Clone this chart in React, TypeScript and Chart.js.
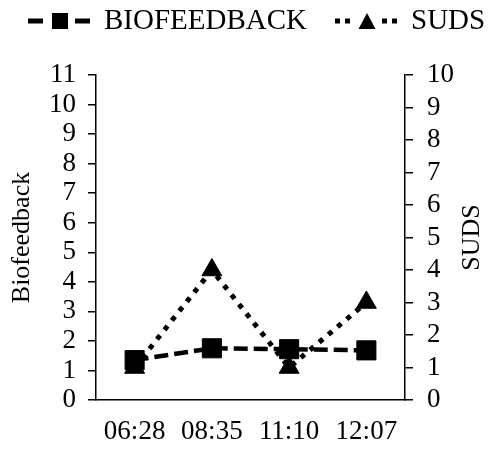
import React, { useEffect, useRef } from 'react';
import { Chart, registerables } from 'chart.js';

Chart.register(...registerables);

// ---- data ----
const categories = ['06:28', '08:35', '11:10', '12:07'];
const biofeedbackValues = [1.35, 1.75, 1.72, 1.68];
const sudsValues = [1, 4, 1, 3];
const seriesLabels = ['BIOFEEDBACK', 'SUDS'];
const leftAxisTitle = 'Biofeedback';
const rightAxisTitle = 'SUDS';
const leftAxisRange = [0, 11];
const rightAxisRange = [0, 10];

const FONT = "'Liberation Serif', 'Times New Roman', serif";

const legendDashes = [[15, 6], [5, 5]];

const drawTriangle = (ctx: CanvasRenderingContext2D, cx: number, cy: number, w: number, h: number) => {
  ctx.beginPath();
  ctx.moveTo(cx, cy - h / 2);
  ctx.lineTo(cx + w / 2, cy + h / 2);
  ctx.lineTo(cx - w / 2, cy + h / 2);
  ctx.closePath();
  ctx.fill();
};

const customPlugin = {
  id: 'customDecor',
  afterDraw(chart: any) {
    const ctx: CanvasRenderingContext2D = chart.ctx;
    ctx.save();
    // legend
    const ly = 21;
    let x = 28;
    ctx.font = `29px ${FONT}`;
    chart.data.datasets.forEach((ds: any, i: number) => {
      const sampleW = 63;
      ctx.strokeStyle = '#000';
      ctx.lineWidth = 5;
      ctx.lineCap = 'butt';
      ctx.setLineDash(legendDashes[i]);
      ctx.beginPath();
      ctx.moveTo(x, ly);
      ctx.lineTo(x + 16, ly);
      ctx.stroke();
      ctx.beginPath();
      ctx.moveTo(x + 47, ly);
      ctx.lineTo(x + 63, ly);
      ctx.stroke();
      ctx.setLineDash([]);
      ctx.fillStyle = '#000';
      const cx = x + 32;
      if (ds.pointStyle === 'rect') {
        ctx.fillRect(cx - 8, ly - 8, 16, 16);
      } else {
        drawTriangle(ctx, cx, ly, 17, 16);
      }
      ctx.textBaseline = 'alphabetic';
      ctx.textAlign = 'left';
      const tx = x + sampleW + 13;
      ctx.fillText(ds.label, tx, 29);
      x = tx + ctx.measureText(ds.label).width + 28;
    });
    // right axis title (reads bottom to top)
    const area = chart.chartArea;
    ctx.font = `26px ${FONT}`;
    ctx.translate(472, (area.top + area.bottom) / 2);
    ctx.rotate(-Math.PI / 2);
    ctx.textAlign = 'center';
    ctx.textBaseline = 'middle';
    ctx.fillText(rightAxisTitle, 0, 0);
    ctx.restore();
  },
};

export default function App() {
  const canvasRef = useRef<HTMLCanvasElement | null>(null);

  useEffect(() => {
    if (!canvasRef.current) return;
    const tickFont = { family: FONT, size: 27 };
    const chart = new Chart(canvasRef.current, {
      type: 'line',
      data: {
        labels: categories,
        datasets: [
          {
            label: seriesLabels[0],
            data: biofeedbackValues,
            yAxisID: 'y',
            borderColor: '#000',
            backgroundColor: '#000',
            borderWidth: 4.5,
            borderDash: [14, 6],
            borderCapStyle: 'butt',
            pointStyle: 'rect',
            pointRadius: 13.5,
            pointBorderWidth: 1,
            pointBackgroundColor: '#000',
            pointBorderColor: '#000',
            tension: 0,
            fill: false,
          },
          {
            label: seriesLabels[1],
            data: sudsValues,
            yAxisID: 'y1',
            borderColor: '#000',
            backgroundColor: '#000',
            borderWidth: 5,
            borderDash: [5, 7],
            borderCapStyle: 'butt',
            pointStyle: 'triangle',
            pointRadius: 11.5,
            pointBorderWidth: 1,
            pointBackgroundColor: '#000',
            pointBorderColor: '#000',
            tension: 0,
            fill: false,
          },
        ],
      },
      options: {
        responsive: false,
        maintainAspectRatio: false,
        devicePixelRatio: 1,
        animation: false,
        layout: { padding: { top: 75, left: 0, right: 0, bottom: 0 } },
        plugins: {
          legend: { display: false },
          tooltip: { enabled: false },
        },
        scales: {
          x: {
            type: 'category',
            offset: true,
            grid: { display: false, drawTicks: false },
            border: { display: true, color: '#000', width: 1.5 },
            ticks: { color: '#000', font: tickFont, padding: 16, maxRotation: 0, autoSkip: false },
            afterFit: (s: any) => { s.height = 50; },
          },
          y: {
            position: 'left',
            min: leftAxisRange[0],
            max: leftAxisRange[1],
            ticks: { stepSize: 1, autoSkip: false, color: '#000', font: tickFont, padding: 12 },
            grid: { drawOnChartArea: false, drawTicks: true, tickLength: 8, color: '#000', lineWidth: 1.5 },
            border: { display: true, color: '#000', width: 1.5 },
            title: { display: true, text: leftAxisTitle, color: '#000', font: { family: FONT, size: 26 }, padding: { top: 7, bottom: 0 } },
            afterFit: (s: any) => { s.width = 96; },
          },
          y1: {
            position: 'right',
            min: rightAxisRange[0],
            max: rightAxisRange[1],
            ticks: { stepSize: 1, autoSkip: false, color: '#000', font: tickFont, padding: 14 },
            grid: { drawOnChartArea: false, drawTicks: true, tickLength: 8, color: '#000', lineWidth: 1.5 },
            border: { display: true, color: '#000', width: 1.5 },
            afterFit: (s: any) => { s.width = 86; },
          },
        },
      },
      plugins: [customPlugin],
    } as any);
    return () => chart.destroy();
  }, []);

  return (
    <div style={{ position: 'absolute', left: 0, top: 0, width: 491, height: 450, background: '#fff' }}>
      <canvas ref={canvasRef} width={491} height={450} style={{ display: 'block', width: 491, height: 450 }} />
    </div>
  );
}
